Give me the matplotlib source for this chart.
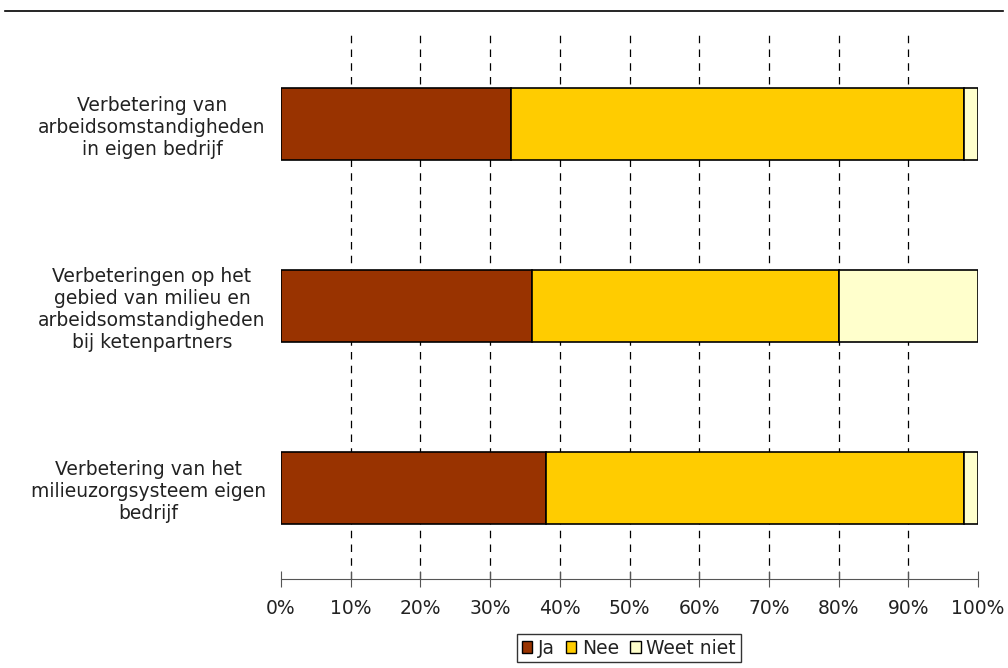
import matplotlib
matplotlib.use('Agg')
import matplotlib.pyplot as plt
from matplotlib.lines import Line2D
from matplotlib.patches import Patch

categories = [
    "Verbetering van\narbeidsomstandigheden\nin eigen bedrijf",
    "Verbeteringen op het\ngebied van milieu en\narbeidsomstandigheden\nbij ketenpartners",
    "Verbetering van het\nmilieuzorgsysteem eigen\nbedrijf",
]
ja = [33, 36, 38]
nee = [65, 44, 60]
weet_niet = [2, 20, 2]
series_names = ["Ja", "Nee", "Weet niet"]
colors = ["#993300", "#FFCC00", "#FFFFCC"]
ticks = list(range(0, 101, 10))

plt.rcParams['font.family'] = ['DejaVu Sans']
txt = '#222222'

fig = plt.figure(figsize=(10.08, 6.68), dpi=100)
ax = fig.add_axes([281 / 1008, 1 - 579 / 668, 697 / 1008, 546 / 668])

ypos = list(range(len(categories)))
left = [0] * len(categories)
for vals, name, col in zip([ja, nee, weet_niet], series_names, colors):
    ax.barh(ypos, vals, left=left, height=0.4, color=col, edgecolor='black',
            linewidth=1.2, label=name, zorder=3)
    left = [l + v for l, v in zip(left, vals)]

# dashed gridlines only between 0% and 100%
for t in ticks[1:-1]:
    ax.axvline(t, linestyle=(0, (6, 5)), color='black', linewidth=0.9, zorder=0)

ax.set_xlim(0, 100)
ax.set_ylim(len(categories) - 0.5, -0.5)
ax.set_xticks(ticks)
ax.set_xticklabels([f"{t}%" for t in ticks], fontsize=13.5, color=txt)
ax.set_yticks(ypos)
ax.set_yticklabels(categories, fontsize=13.5, multialignment='center', color=txt,
                   linespacing=1.2)
ax.tick_params(axis='y', length=0, pad=11)
ax.tick_params(axis='x', direction='inout', length=11, pad=9, color='#555555')

for s in ['top', 'right', 'left']:
    ax.spines[s].set_visible(False)
ax.spines['bottom'].set_color('#555555')

handles = [Patch(facecolor=c, edgecolor='black', label=n) for c, n in zip(colors, series_names)]
leg = fig.legend(handles=handles, loc='center', bbox_to_anchor=(629 / 1008, 1 - 648 / 668),
                 ncol=3, frameon=True, fancybox=False, fontsize=13.5, handlelength=0.55,
                 handleheight=0.55, handletextpad=0.3, columnspacing=0.6, borderpad=0.25,
                 labelcolor=txt)
leg.get_frame().set_edgecolor('black')
leg.get_frame().set_linewidth(1)

fig.add_artist(Line2D([5 / 1008, 1003 / 1008], [1 - 11 / 668, 1 - 11 / 668],
                      color='black', linewidth=1.2, transform=fig.transFigure))

fig.savefig('out.png', dpi=100)
